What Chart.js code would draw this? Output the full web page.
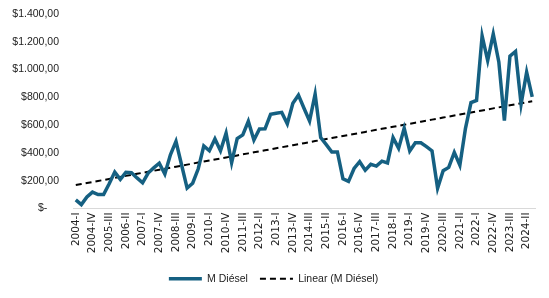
<!DOCTYPE html>
<html>
<head>
<meta charset="utf-8">
<script src="https://cdn.jsdelivr.net/npm/chart.js@4/dist/chart.umd.min.js"></script>
<style>
  html, body { margin: 0; padding: 0; background: #fff; }
  #wrap { width: 549px; height: 298px; }
</style>
</head>
<body>
<div id="wrap"><canvas id="chart"></canvas></div>
<script>
  // quarterly periods 2004-I .. 2024-III
  const firstYear = 2004;
  const quarterNames = ["I", "II", "III", "IV"];
  const periodCount = 83;

  const mDiesel = [
    62, 28, 83, 118, 100, 100, 178, 262, 210, 260,
    258, 220, 185, 255, 292, 326, 248, 387, 483, 315,
    147, 182, 286, 451, 416, 501, 416, 542, 330, 504,
    530, 628, 493, 573, 574, 678, 686, 692, 610, 758,
    816, 722, 630, 824, 510, 460, 407, 407, 214, 195,
    288, 337, 276, 318, 305, 341, 328, 510, 433, 578,
    414, 473, 473, 445, 414, 146, 272, 296, 404, 312,
    575, 762, 778, 1243, 1065, 1256, 1055, 632, 1097, 1130,
    751, 981, 804
  ];

  const yMax = 1400;
  const yStep = 200;

  const labels = [];
  for (let i = 0; i < periodCount; i++) {
    labels.push(`${firstYear + Math.floor(i / 4)}-${quarterNames[i % 4]}`);
  }

  // Excel style linear trendline (least squares over the series)
  function linearTrend(values) {
    const n = values.length;
    let sx = 0, sy = 0, sxy = 0, sxx = 0;
    values.forEach((v, i) => {
      const x = i + 1;
      sx += x; sy += v; sxy += x * v; sxx += x * x;
    });
    const slope = (n * sxy - sx * sy) / (n * sxx - sx * sx);
    const icpt = (sy - slope * sx) / n;
    return values.map((_, i) => icpt + slope * (i + 1));
  }

  function money(v) {
    if (v === 0) return "$-    ";
    const s = Math.round(v).toString().replace(/\B(?=(\d{3})+(?!\d))/g, ".");
    return "$" + s + ",00";
  }

  const font = { family: "'Liberation Sans', Arial, sans-serif", size: 10.5 };
  const xFont = { family: "'DejaVu Sans', sans-serif", size: 10.5 };

  new Chart(document.getElementById("chart"), {
    type: "line",
    data: {
      labels: labels,
      datasets: [
        {
          label: "M Diésel",
          data: mDiesel,
          borderColor: "#156082",
          backgroundColor: "#156082",
          borderWidth: 3.5,
          pointRadius: 0,
          tension: 0,
        },
        {
          label: "Linear (M Diésel)",
          data: linearTrend(mDiesel),
          borderColor: "#000000",
          backgroundColor: "#000000",
          borderWidth: 2,
          borderDash: [6, 4],
          pointRadius: 0,
          tension: 0,
        },
      ],
    },
    options: {
      responsive: true,
      maintainAspectRatio: false,
      animation: false,
      layout: { padding: { top: 14, right: 14, bottom: 4, left: 12 } },
      plugins: {
        legend: {
          position: "bottom",
          labels: {
            font: font,
            color: "#222",
            boxWidth: 33,
            boxHeight: 0,
            padding: 12,
          },
        },
        tooltip: { enabled: false },
      },
      scales: {
        x: {
          offset: true,
          grid: { display: false, drawTicks: false },
          border: { display: true, color: "#d9d9d9", width: 1 },
          ticks: {
            font: xFont,
            color: "#222",
            autoSkip: false,
            maxRotation: 90,
            minRotation: 90,
            padding: 4,
            callback: (v, i) => (i % 3 === 0 ? labels[i] : ""),
          },
          afterFit: (s) => { s.height = 53; },
        },
        y: {
          min: 0,
          max: yMax,
          grid: { display: false, drawTicks: false },
          border: { display: false },
          ticks: {
            stepSize: yStep,
            font: font,
            color: "#222",
            padding: 14,
            callback: (v) => money(v),
          },
          afterFit: (s) => {
            s.width = 61;
            s.paddingTop = 6;
            s.paddingBottom = 6;
          },
        },
      },
    },
  });
</script>
</body>
</html>
